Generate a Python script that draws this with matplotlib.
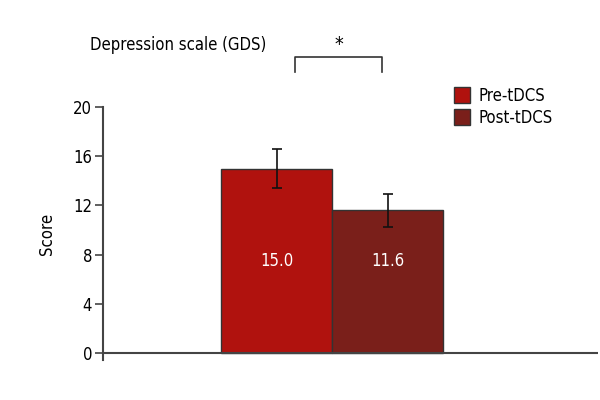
import numpy as np
import matplotlib.pyplot as plt
from matplotlib.patches import Patch

plt.rcParams['font.family'] = ['DejaVu Sans']
plt.rcParams['font.stretch'] = 'condensed'

## data
groups = ["Pre-tDCS", "Post-tDCS"]
means = [15.0, 11.6]
errors = [1.6, 1.35]
colors = ["#b0120e", "#7a1f1a"]
yticks = [0, 4, 8, 12, 16, 20]

fig = plt.figure(figsize=(6, 4), dpi=100)
ax = fig.add_axes([0.172, 0.099, 0.825, 0.6335])

x = np.arange(len(groups))
ax.bar(x, means, width=1.0, color=colors, edgecolor="#333333", linewidth=1.0, zorder=2)
ax.errorbar(x, means, yerr=errors, fmt="none", ecolor="#111111", elinewidth=1.2,
            capsize=3.8, capthick=1.2, zorder=3)
for xi, m in zip(x, means):
    ax.text(xi, 7.5, "%.1f" % m, color="white", ha="center", va="center", fontsize=12)

ax.set_xlim(-1.563, 2.896)
ax.set_ylim(-0.6, 20)
ax.axhline(0, color="#444444", linewidth=1.5, zorder=4)
for s in ["top", "right", "bottom"]:
    ax.spines[s].set_visible(False)
ax.spines["left"].set_bounds(-0.6, 20)
ax.spines["left"].set_color("#444444")
ax.spines["left"].set_linewidth(1.5)
ax.set_xticks([])
ax.set_yticks(yticks)
ax.tick_params(axis="y", length=6, width=1.2, color="#444444", labelsize=12, pad=2)
ax.set_ylabel("Score", fontsize=12, labelpad=12)

## significance bracket
ax.plot([0.167, 0.167, 0.95, 0.95], [22.85, 24.07, 24.07, 22.85], color="#333333",
        linewidth=1.2, clip_on=False)
ax.text(0.56, 24.3, "*", ha="center", va="bottom", fontsize=14, clip_on=False)

fig.text(0.15, 0.887, "Depression scale (GDS)", fontsize=12, va="center", ha="left")

handles = [Patch(facecolor=c, edgecolor="#333333") for c in colors]
fig.legend(handles, groups, loc="upper left", bbox_to_anchor=(0.745, 0.8), frameon=False,
           fontsize=12, handlelength=1.0, handleheight=1.1, handletextpad=0.5,
           labelspacing=0.25, borderaxespad=0)

fig.savefig("out.png", dpi=100)
